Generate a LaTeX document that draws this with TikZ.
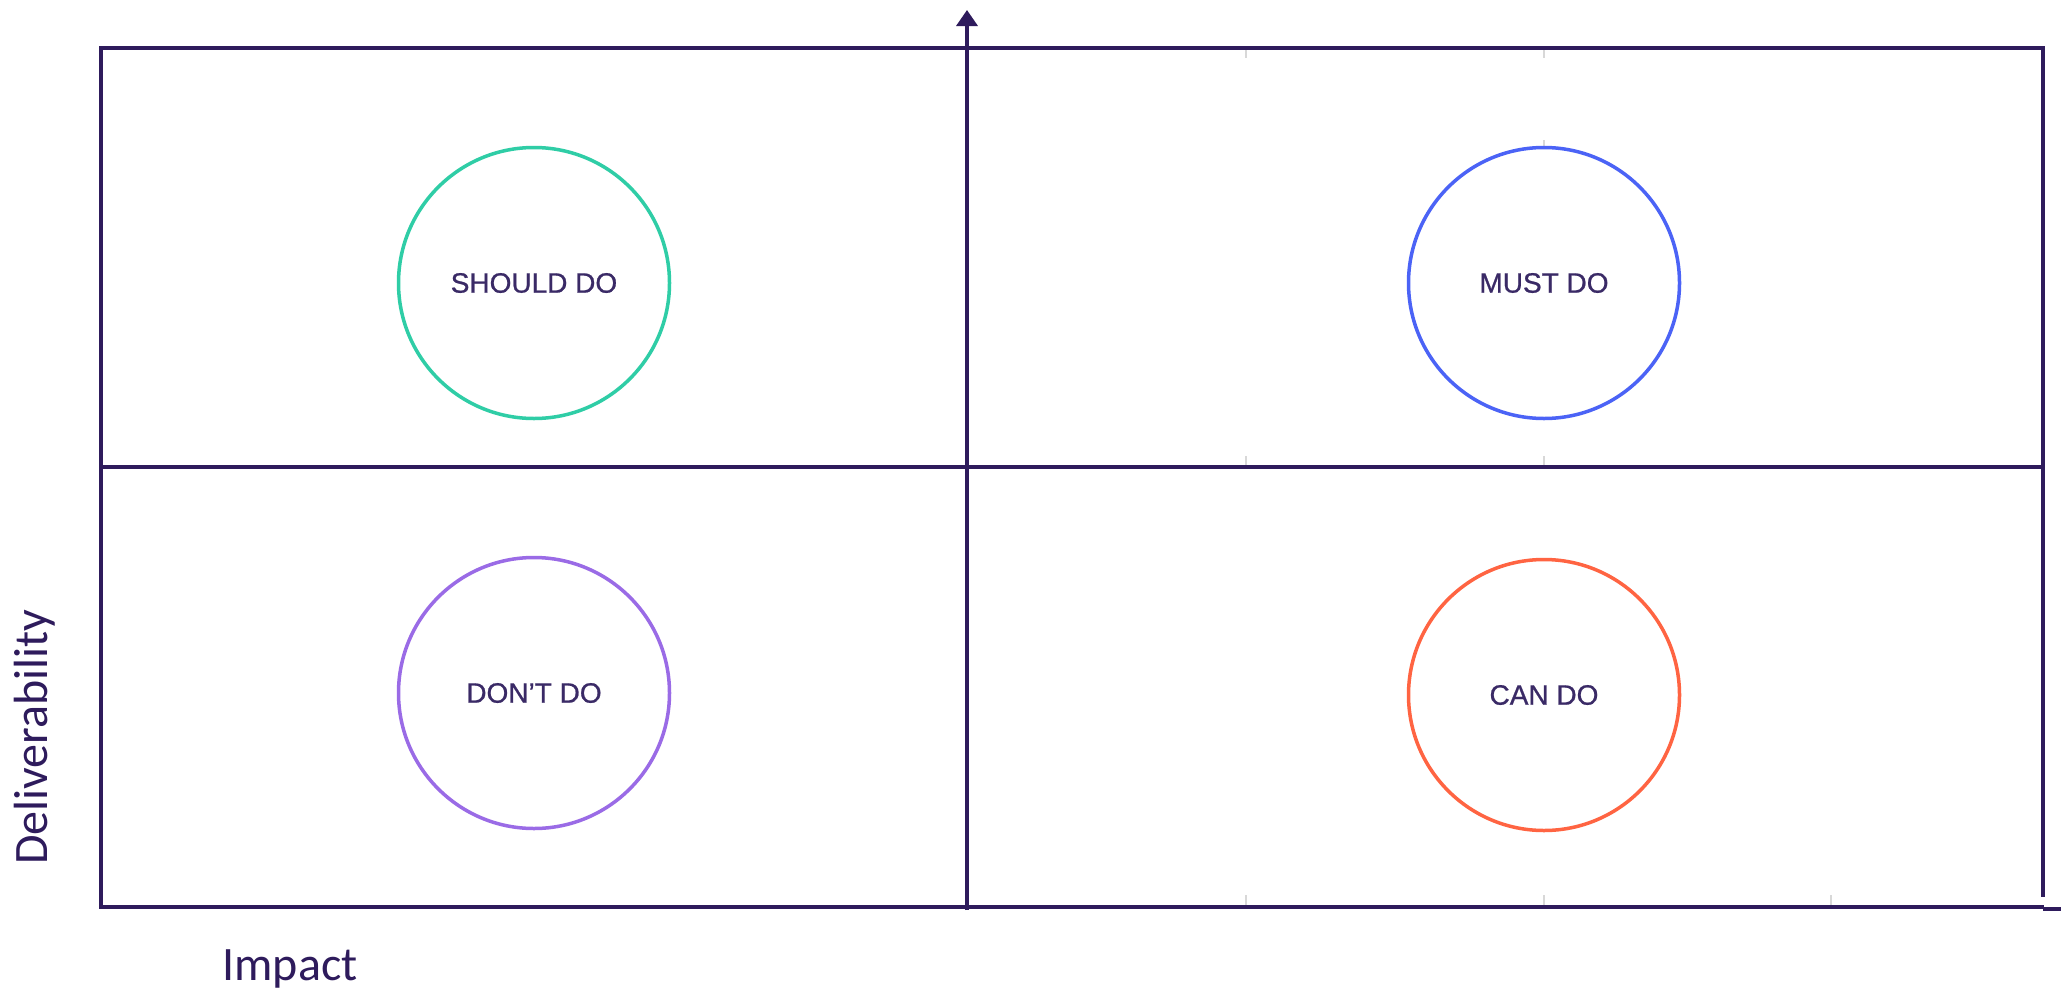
\documentclass[tikz,border=0pt]{standalone}
\usepackage{fontspec}
\setmainfont{Liberation Sans}
\newfontfamily\calfont{Carlito}
\newfontfamily\lblfont[FakeBold=0.8]{Liberation Sans}
\usetikzlibrary{arrows.meta}
\definecolor{axiscol}{HTML}{2E1B5C}
\definecolor{textcol}{HTML}{3A2A66}
\definecolor{tealc}{HTML}{2FCDA6}
\definecolor{bluec}{HTML}{4B63F6}
\definecolor{purplec}{HTML}{9A6BE6}
\definecolor{orangec}{HTML}{FF6442}
\definecolor{tickc}{HTML}{D8D8D8}
\begin{document}
\begin{tikzpicture}[x=1pt,y=-1pt,
  frameline/.style={draw=axiscol,line width=4pt},
  quad/.style={circle,minimum size=271pt,line width=3.5pt,inner sep=0pt,
    text=textcol,font=\lblfont\fontsize{28}{30}\selectfont},
  axislabel/.style={text=axiscol,font=\calfont\fontsize{48}{50}\selectfont},
  tickline/.style={draw=tickc,line width=2pt}]
\useasboundingbox[fill=white] (0,0) rectangle (2061,988);
% frame coordinates
\coordinate (tl) at (101,48);
\coordinate (tr) at (2043,48);
\coordinate (rb) at (2043,895);
\coordinate (bl) at (101,907);
\coordinate (br) at (2042,907);
\coordinate (ml) at (101,467);
\coordinate (mr) at (2043,467);
\coordinate (ab) at (967,910);
\coordinate (at) at (967,10);
\coordinate (sa) at (2043,909);
\coordinate (sb) at (2061,909);
% faint ticks
\foreach \x in {1246,1544,1831}{
  \draw[tickline] (\x,895) -- (\x,905);
}
\foreach \x in {1246,1544}{
  \draw[tickline] (\x,456) -- (\x,465);
  \draw[tickline] (\x,50) -- (\x,58);
}
\draw[tickline] (1544,140) -- (1544,147);
% frame
\draw[frameline,line cap=rect] (rb) -- (tr) -- (tl) -- (bl) -- (br);
\draw[frameline] (ml) -- (mr);
\draw[frameline] (sa) -- (sb);
\draw[draw=axiscol,line width=3.5pt,-{Triangle[length=16pt,width=21pt]}] (ab) -- (at);
% quadrants
\node[quad,draw=tealc] (should) at (534,283) {SHOULD DO};
\node[quad,draw=bluec] (must) at (1544,283) {MUST DO};
\node[quad,draw=purplec] (dont) at (534,693) {DON’T DO};
\node[quad,draw=orangec] (can) at (1544,695) {CAN DO};
% axis labels
\node[axislabel,anchor=base] (impact) at (290,980) {Impact};
\node[axislabel,anchor=base,rotate=90] (deliv) at (47,737) {Deliverability};
\end{tikzpicture}
\end{document}
